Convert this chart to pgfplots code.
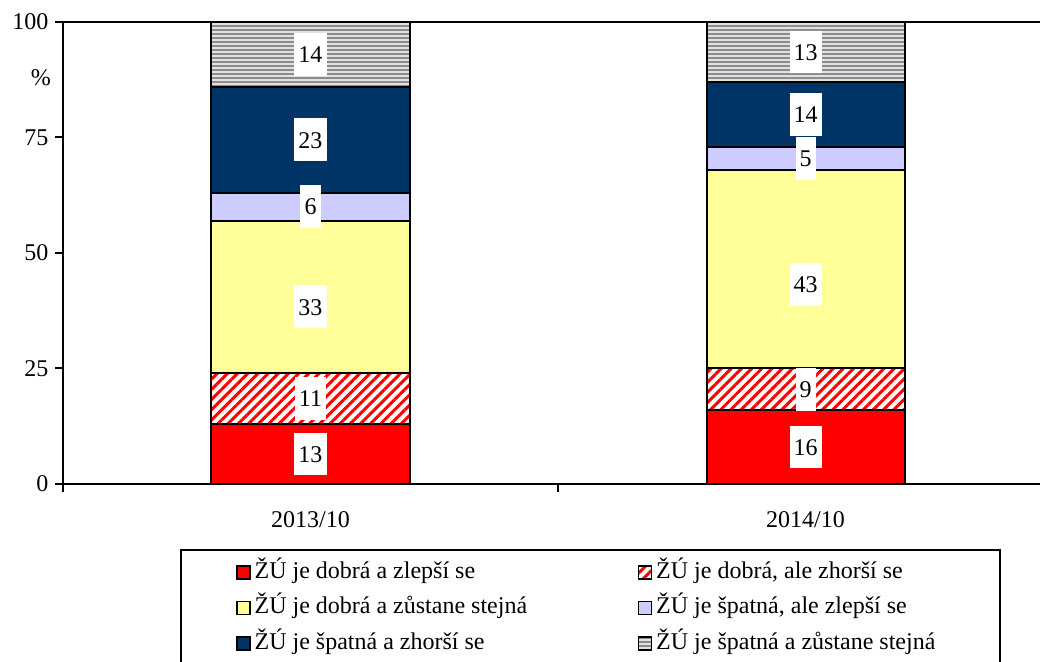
\documentclass[border=0pt]{standalone}
\usepackage{fontspec}
\setmainfont{Liberation Serif}
\usepackage{pgfplots}
\pgfplotsset{compat=1.18}
\usetikzlibrary{patterns.meta}
\definecolor{cyel}{RGB}{255,255,153}
\definecolor{clav}{RGB}{204,204,255}
\definecolor{cnavy}{RGB}{0,51,102}
\definecolor{cgrayb}{RGB}{225,225,225}
\definecolor{cgrayl}{RGB}{140,140,140}
\begin{document}
\begin{tikzpicture}[font=\fontsize{12}{14.4}\selectfont]
\begin{axis}[
  at={(31.5pt,-11pt)}, anchor=north west,
  scale only axis, width=495pt, height=231pt,
  ybar stacked, bar width=0.4,
  xmin=-0.5, xmax=1.5, ymin=0, ymax=100,
  axis line style={line width=1pt},
  tick align=outside, tick pos=left,
  major tick length=3.75pt,
  every tick/.style={black, line width=1pt},
  xtick={-0.5,0.5,1.5}, xticklabels={},
  extra x ticks={0,1}, extra x tick labels={2013/10,2014/10},
  extra x tick style={major tick length=0pt, xticklabel style={yshift=-10pt}},
  ytick={0,25,50,75,100},
  extra y ticks={88}, extra y tick labels={\%},
  extra y tick style={major tick length=0pt, yticklabel style={xshift=-2.5pt}},
  /pgf/number format/assume math mode=true,
  nodes near coords,
  every node near coord/.append style={fill=white, text=black, inner xsep=2pt, inner ysep=6.6pt, text height=8.2pt, text depth=0pt, anchor=center},
  legend columns=2,
  legend cell align=left,
  legend style={at={(0.1182,-0.1407)}, anchor=north west, draw=black, line width=1pt,
    inner xsep=27.5pt, inner ysep=4pt, row sep=3.25pt,
    nodes={text height=8pt, text depth=2.5pt, inner ysep=2pt, line width=0.6pt}},
  legend image code/.code={\draw[#1,draw=black,line width=0.8pt] (0pt,-3.25pt) rectangle (6.5pt,3.25pt);},
]
\addplot[fill=red, draw=black, line width=1pt] coordinates {(0,13) (1,16)};
\addlegendentry{\makebox[189.5pt][l]{ŽÚ je dobrá a zlepší se}}
\addplot[pattern={Lines[angle=45,distance=3.6pt,line width=1.5pt]}, pattern color=red, draw=black, line width=1pt] coordinates {(0,11) (1,9)};
\addlegendentry{\makebox[142.5pt][l]{ŽÚ je dobrá, ale zhorší se}}
\addplot[fill=cyel, draw=black, line width=1pt,
  visualization depends on={value \thisrow{off} \as \laboff},
  every node near coord/.append style={yshift=-\laboff pt}] table {
x y off
0 33 5
1 43 7.5
};
\addlegendentry{\makebox[189.5pt][l]{ŽÚ je dobrá a zůstane stejná}}
\addplot[fill=clav, draw=black, line width=1pt] coordinates {(0,6) (1,5)};
\addlegendentry{\makebox[142.5pt][l]{ŽÚ je špatná, ale zlepší se}}
\addplot[fill=cnavy, draw=black, line width=1pt] coordinates {(0,23) (1,14)};
\addlegendentry{\makebox[189.5pt][l]{ŽÚ je špatná a zhorší se}}
\addplot[fill=cgrayb, postaction={pattern={Lines[angle=0,distance=2pt,line width=0.9pt]}, pattern color=cgrayl}, draw=black, line width=1pt] coordinates {(0,14) (1,13)};
\addlegendentry{\makebox[142.5pt][l]{ŽÚ je špatná a zůstane stejná}}
\end{axis}
\pgfresetboundingbox
\path[use as bounding box] (0,0) rectangle (520pt,-331pt);
\end{tikzpicture}
\end{document}
